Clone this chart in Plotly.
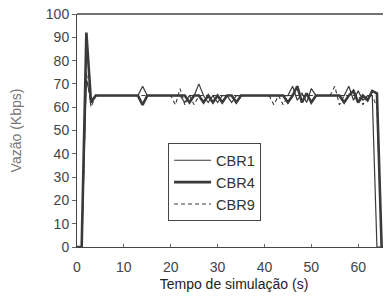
import plotly.graph_objects as go

t = list(range(0, 67))

cbr1 = [0, 0, 72, 63, 65, 65, 65, 65, 65, 65,
        65, 65, 65, 65, 69, 65, 65, 65, 65, 65,
        65, 65, 65, 62, 65, 65, 70, 65, 62, 65,
        62, 65, 65, 62, 65, 65, 65, 65, 65, 65,
        65, 65, 65, 65, 65, 65, 69, 63, 66, 62,
        68, 65, 65, 65, 65, 65, 65, 65, 69, 63,
        67, 63, 65, 65, 0, 0, 0]

cbr4 = [0, 0, 92, 62, 65, 65, 65, 65, 65, 65,
        65, 65, 65, 65, 61, 65, 65, 65, 65, 65,
        65, 65, 65, 65, 62, 65, 65, 62, 65, 62,
        65, 62, 65, 65, 62, 65, 65, 65, 65, 65,
        65, 65, 65, 65, 65, 62, 65, 69, 62, 66,
        62, 65, 65, 65, 65, 65, 65, 62, 65, 67,
        62, 65, 63, 67, 66, 0, 0]

cbr9 = [0, 0, 75, 60, 65, 65, 65, 65, 65, 65,
        65, 65, 65, 65, 65, 65, 65, 65, 65, 65,
        65, 61, 68, 61, 65, 61, 65, 65, 65, 65,
        65, 65, 65, 65, 65, 65, 65, 65, 65, 65,
        65, 65, 61, 65, 61, 65, 65, 65, 65, 65,
        65, 65, 65, 65, 65, 69, 61, 65, 65, 65,
        65, 61, 65, 65, 60, 0, 0]

names = ["CBR1", "CBR4", "CBR9"]
xticks = [0, 10, 20, 30, 40, 50, 60]
yticks = list(range(0, 101, 10))

col = "#3a3a3a"
fig = go.Figure()
fig.add_trace(go.Scatter(x=t, y=cbr1, name=names[0], mode="lines", legendgroup="a",
                         line=dict(color=col, width=1.2)))
fig.add_trace(go.Scatter(x=t, y=cbr4, name=names[1], mode="lines", legendgroup="b",
                         line=dict(color=col, width=2.6)))
fig.add_trace(go.Scatter(x=t, y=cbr9, name=names[2], mode="lines", legendgroup="c",
                         line=dict(color=col, width=1.1, dash="4px,3px")))

font = dict(family="Liberation Sans, Arial, sans-serif", size=14, color="#333")
fig.update_layout(
    width=383, height=284,
    margin=dict(l=69, r=0, t=6, b=45),
    paper_bgcolor="white", plot_bgcolor="white",
    font=font,
    showlegend=True,
    legend=dict(x=0.29, y=0.445, xanchor="left", yanchor="top",
                bordercolor="#444", borderwidth=1, bgcolor="white",
                font=dict(size=14.5, color="#333"), itemwidth=37,
                tracegroupgap=0),
    xaxis=dict(range=[0, 67], tickvals=xticks, showgrid=False, zeroline=False,
               showline=True, linecolor="#444", linewidth=1, automargin=False,
               ticks="inside", ticklen=3, tickcolor="#666",
               tickfont=dict(size=14, color="#444"), ticklabeloverflow="allow",
               ticklabelstandoff=7,
               title=dict(text="Tempo de simulação (s)", standoff=5,
                          font=dict(size=14, color="#222"))),
    yaxis=dict(range=[0, 100], tickvals=yticks, showgrid=False, zeroline=False,
               showline=True, linecolor="#444", linewidth=1, automargin=False,
               ticks="outside", ticklen=4, tickcolor="#666",
               tickfont=dict(size=14, color="#444"), ticklabeloverflow="allow",
               title=dict(text="Vazão (Kbps)", standoff=26,
                          font=dict(size=14, color="#777"))),
)
fig.add_shape(type="line", xref="paper", yref="paper", x0=0, x1=1, y0=1, y1=1,
              line=dict(color="#444", width=1.5))
fig.write_html("out.html")
